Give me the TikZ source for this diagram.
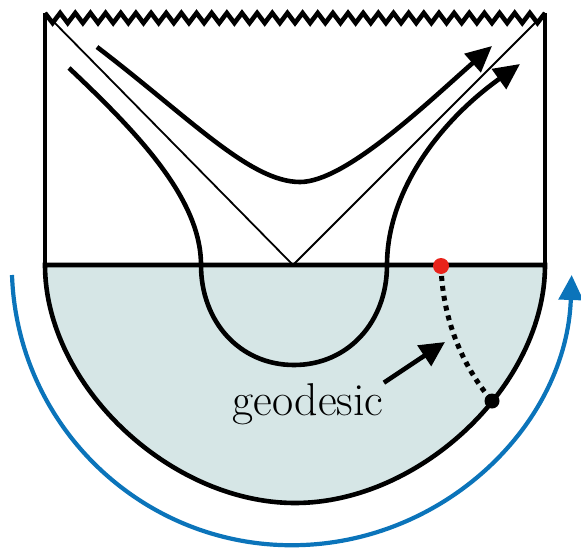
\documentclass[tikz,border=0pt]{standalone}
\usepackage{tikz}
\usetikzlibrary{arrows.meta}
\definecolor{bulkfill}{HTML}{D6E6E6}
\definecolor{bdyblue}{HTML}{0B74BA}
\definecolor{ptred}{HTML}{E8231B}

\begin{document}
\begin{tikzpicture}[x=0.5pt,y=-0.5pt,
  thickline/.style={line width=2.3pt},
  lightray/.style={line width=0.9pt},
  traj/.style={line width=2.3pt,-{Triangle[length=13pt,width=12pt]}},
  geod/.style={line width=2.5pt,dash pattern=on 2.5pt off 2.5pt}]
  \useasboundingbox (0,0) rectangle (581,550);
  \coordinate (TL) at (45,13);
  \coordinate (TR) at (545,13);
  \coordinate (BL) at (45,265);
  \coordinate (BR) at (545,265);
  \coordinate (O) at (293,265);
  % Euclidean half
  \filldraw[thickline,fill=bulkfill] (BL) .. controls (45,385) and (170,503) .. (295,503)
    .. controls (420,503) and (545,385) .. (BR) -- cycle;
  % boundary time
  \draw[bdyblue,line width=2.1pt,-{Triangle[length=12.5pt,width=12pt]}]
    (12,275) arc[start angle=178,end angle=2,radius=280];
  % Lorentzian half
  \draw[thickline] (TL) \foreach \k in {1,...,33} { -- ++(7.5758,10) -- ++(7.5758,-10) };
  \draw[thickline] (TL) -- (BL);
  \draw[thickline] (TR) -- (BR);
  \draw[lightray] (TL) -- (O) -- (TR);
  \draw[traj] (97,47) .. controls (190,118) and (250,182) .. (300,182)
    .. controls (345,182) and (425,105) .. (492,46);
  \draw[traj] (69,68) .. controls (140,135) and (201,200) .. (201,265)
    .. controls (201,322) and (240,365) .. (294,365)
    .. controls (348,365) and (387,322) .. (387,265)
    .. controls (387,195) and (435,125) .. (520,64);
  % geodesic
  \coordinate (P) at (441,266);
  \coordinate (Q) at (492,401);
  \draw[geod] (P) .. controls (443,330) and (470,375) .. (Q);
  \fill[ptred] (P) circle (8);
  \fill (Q) circle (7.5);
  \node[font=\fontsize{23}{27}\selectfont,inner sep=0pt,anchor=base] (geo) at (308,415) {geodesic};
  \coordinate (geotip) at (445,342);
  \draw[line width=2.3pt,-{Triangle[length=12.5pt,width=12pt]}] (geo.north east) -- (geotip);
\end{tikzpicture}
\end{document}
